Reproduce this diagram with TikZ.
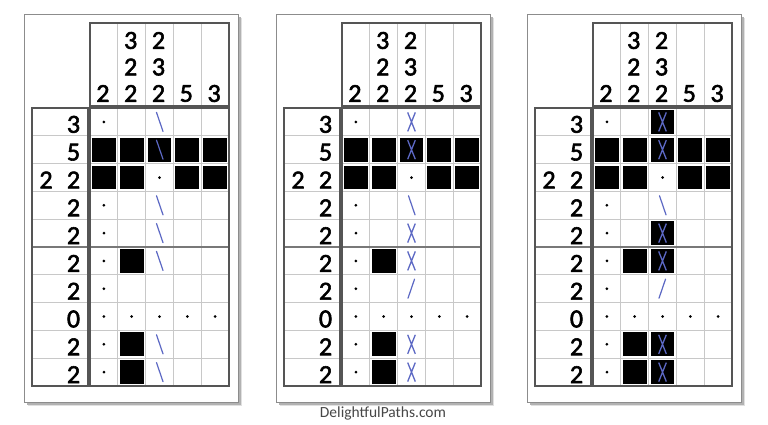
\documentclass[tikz,border=0pt]{standalone}
\usepackage{fontspec}
\setmainfont{Carlito}[FakeBold=2.2]
\newfontfamily\footfont{Carlito}
\definecolor{markblue}{RGB}{92,104,196}
\definecolor{boxline}{RGB}{85,85,85}
\definecolor{gridline}{RGB}{200,200,200}
\definecolor{midline}{RGB}{120,120,120}
\definecolor{framecol}{RGB}{140,140,140}
\tikzset{
  blackcell/.style={fill=black, draw=none},
  markline/.style={draw=markblue, line width=1.2pt, line cap=round},
  dotmark/.style={fill=black, draw=none},
  boxborder/.style={draw=boxline, line width=1.3pt},
  thinline/.style={draw=gridline, line width=0.9pt},
  midrule/.style={draw=midline, line width=1.2pt},
  clue/.style={font=\fontsize{26}{26}\selectfont, inner sep=0pt, anchor=center, text=black},
  footer/.style={font=\footfont\fontsize{15.5}{15.5}\selectfont, text=black!72, inner sep=0pt},
}
% cell marks: #1 = column, #2 = row
\newcommand\Bk[2]{\fill[blackcell] ({66+(#1-1)*27.8+2},{108+(#2-1)*27.8+2}) rectangle ++(23.8,23.8);}
\newcommand\Dt[2]{\fill[dotmark] ({66+(#1-0.5)*27.8},{108+(#2-0.5)*27.8}) circle (1.5);}
\newcommand\Bs[2]{\draw[markline,shift={({66+(#1-0.5)*27.8},{108+(#2-0.5)*27.8})}] (-3,-9.5) -- (3.5,9.5);}
\newcommand\Fs[2]{\draw[markline,shift={({66+(#1-0.5)*27.8},{108+(#2-0.5)*27.8})}] (3,-9.5) -- (-3.5,9.5);}
\newcommand\Xm[2]{\draw[markline,line width=1.3pt,line cap=butt,shift={({66+(#1-0.5)*27.8},{108+(#2-0.5)*27.8})}]
  (-3.8,-9.5) .. controls (-1,-2.5) and (1,2.5) .. (3.8,9.5)
  (3.8,-9.5) .. controls (1,-2.5) and (-1,2.5) .. (-3.8,9.5);}
% panel: #1 = x offset, #2 = name prefix, #3 = panel-specific marks
\newcommand\NPanel[3]{%
\begin{scope}[xshift=#1]
  % frame with shadow
  \fill[black!12] (3.5,17.5) rectangle (217.5,405.5);
  \fill[black!30] (2.5,16.5) rectangle (216.5,404.5);
  \fill[black!60] (1.3,15.3) rectangle (215.3,403.3);
  \filldraw[fill=white, draw=framecol, line width=1pt] (0,14) rectangle (214,402);
  % header box
  \foreach \i in {1,...,4} \draw[thinline] ({66+\i*27.8},23) -- ({66+\i*27.8},106);
  % row clue box and grid lines
  \foreach \j in {1,...,9} {
    \draw[thinline] (8,{108+\j*27.8}) -- (64,{108+\j*27.8});
    \draw[thinline] (66,{108+\j*27.8}) -- (205,{108+\j*27.8});
  }
  \foreach \i in {1,...,4} \draw[thinline] ({66+\i*27.8},108) -- ({66+\i*27.8},386);
  \draw[midrule] (8,247) -- (64,247);
  \draw[midrule] (66,247) -- (205,247);
  % common marks
  \Bk{1}{2}\Bk{2}{2}\Bk{3}{2}\Bk{4}{2}\Bk{5}{2}
  \Bk{1}{3}\Bk{2}{3}\Bk{4}{3}\Bk{5}{3}
  \Bk{2}{6}\Bk{2}{9}\Bk{2}{10}
  \Dt{1}{1}\Dt{3}{3}\Dt{1}{4}\Dt{1}{5}\Dt{1}{6}\Dt{1}{7}
  \Dt{1}{8}\Dt{2}{8}\Dt{3}{8}\Dt{4}{8}\Dt{5}{8}
  \Dt{1}{9}\Dt{1}{10}
  #3
  % box borders
  \draw[boxborder] (66,23) rectangle (205,106);
  \draw[boxborder] (8,108) rectangle (64,386);
  \draw[boxborder] (66,108) rectangle (205,386);
  % column clues
  \node[clue] (#2h1a) at ({66+0.5*27.8-1},93.5) {2};
  \node[clue] (#2h2a) at ({66+1.5*27.8-1},40.5) {3};
  \node[clue] (#2h2b) at ({66+1.5*27.8-1},67) {2};
  \node[clue] (#2h2c) at ({66+1.5*27.8-1},93.5) {2};
  \node[clue] (#2h3a) at ({66+2.5*27.8-1},40.5) {2};
  \node[clue] (#2h3b) at ({66+2.5*27.8-1},67) {3};
  \node[clue] (#2h3c) at ({66+2.5*27.8-1},93.5) {2};
  \node[clue] (#2h4a) at ({66+3.5*27.8-1},93.5) {5};
  \node[clue] (#2h5a) at ({66+4.5*27.8-1},93.5) {3};
  % row clues
  \foreach \v [count=\j] in {3,5,2,2,2,2,2,0,2,2}
    \node[clue] (#2r\j) at (49.5,{108+(\j-0.5)*27.8+2.5}) {\v};
  \node[clue] (#2r3b) at (22,{108+2.5*27.8+2.5}) {2};
\end{scope}}
\begin{document}
\begin{tikzpicture}[x=1pt,y=-1pt]
  \useasboundingbox[fill=white] (0,0) rectangle (768,424);
  \NPanel{24}{pa}{%
    \Bs{3}{1}\Bs{3}{2}\Bs{3}{4}\Bs{3}{5}\Bs{3}{6}\Bs{3}{9}\Bs{3}{10}}
  \NPanel{276}{pb}{%
    \Xm{3}{1}\Xm{3}{2}\Bs{3}{4}\Xm{3}{5}\Xm{3}{6}\Fs{3}{7}\Xm{3}{9}\Xm{3}{10}}
  \NPanel{527}{pc}{%
    \Bk{3}{1}\Bk{3}{5}\Bk{3}{6}\Bk{3}{9}\Bk{3}{10}
    \Xm{3}{1}\Xm{3}{2}\Bs{3}{4}\Xm{3}{5}\Xm{3}{6}\Fs{3}{7}\Xm{3}{9}\Xm{3}{10}}
  \node[footer] (site) at (383,413) {DelightfulPaths.com};
\end{tikzpicture}
\end{document}
